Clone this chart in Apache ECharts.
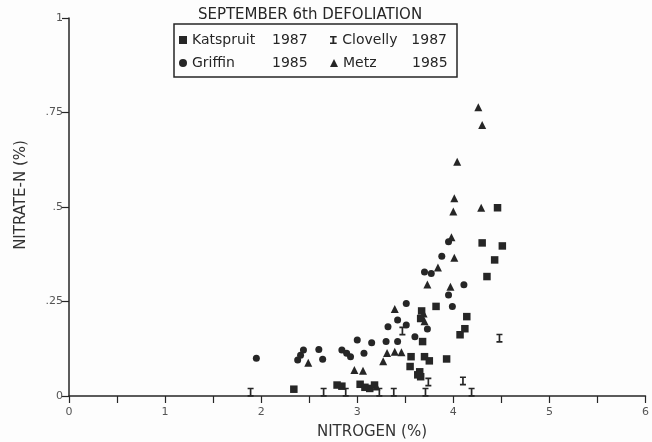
<!DOCTYPE html>
<html>
<head>
<meta charset="utf-8">
<script src="https://cdn.jsdelivr.net/npm/echarts@6/dist/echarts.min.js"></script>
<style>
  html, body { margin: 0; padding: 0; background: #fdfdfd; }
  #chart { width: 652px; height: 442px; }
</style>
</head>
<body>
<div id="chart"></div>
<script>
// Total nitrogen (%) vs nitrate-N (%) in leaves, September 6th defoliation
const seriesNames = ['Katspruit 1987', 'Clovelly 1987', 'Griffin 1985', 'Metz 1985'];

const katspruit = [
  [2.34, 0.018], [2.79, 0.029], [2.84, 0.026], [3.03, 0.031], [3.08, 0.023],
  [3.13, 0.020], [3.18, 0.029], [3.55, 0.078], [3.56, 0.104], [3.63, 0.056],
  [3.65, 0.064], [3.66, 0.051], [3.70, 0.104], [3.75, 0.093], [3.93, 0.098],
  [3.68, 0.144], [3.66, 0.205], [3.67, 0.225], [3.82, 0.237], [4.07, 0.162],
  [4.12, 0.178], [4.14, 0.210], [4.30, 0.405], [4.35, 0.316], [4.43, 0.360],
  [4.46, 0.498], [4.51, 0.397]
];
const clovelly = [
  [1.89, 0.010], [2.65, 0.010], [2.88, 0.010], [3.23, 0.010], [3.38, 0.010],
  [3.71, 0.010], [4.19, 0.010], [3.74, 0.037], [4.10, 0.040], [3.47, 0.172],
  [4.48, 0.153]
];
const griffin = [
  [1.95, 0.100], [2.38, 0.095], [2.41, 0.108], [2.44, 0.122], [2.60, 0.123],
  [2.64, 0.097], [2.84, 0.122], [2.89, 0.113], [2.93, 0.104], [3.00, 0.148],
  [3.07, 0.113], [3.15, 0.141], [3.30, 0.144], [3.42, 0.144], [3.32, 0.183],
  [3.42, 0.201], [3.51, 0.188], [3.51, 0.245], [3.60, 0.157], [3.73, 0.177],
  [3.99, 0.237], [3.95, 0.267], [4.11, 0.294], [3.70, 0.328], [3.77, 0.324],
  [3.88, 0.370], [3.95, 0.408]
];
const metz = [
  [2.49, 0.088], [2.97, 0.069], [3.06, 0.067], [3.20, 0.025], [3.27, 0.092],
  [3.31, 0.114], [3.39, 0.117], [3.46, 0.116], [3.39, 0.230], [3.69, 0.218],
  [3.70, 0.198], [3.73, 0.295], [3.84, 0.340], [3.97, 0.289], [4.01, 0.366],
  [3.98, 0.420], [4.00, 0.488], [4.01, 0.523], [4.04, 0.620], [4.29, 0.498],
  [4.26, 0.764], [4.30, 0.717]
];

const yTickLabels = { 0: '0', 0.25: '.25', 0.5: '.5', 0.75: '.75', 1: '1' };
const xTickLabels = { 0: '0', 1: '1', 2: '2', 3: '3', 4: '4', 5: '5', 6: '6' };

const INK = '#262626';
const FONT = '"DejaVu Sans", sans-serif';
// I-beam marker used for the Clovelly soil
const ibeam = 'path://M0,0H10V2.2H6.4V9.8H10V12H0V9.8H3.6V2.2H0Z';

const nameWidth = {
  'Katspruit 1987': 80, 'Griffin 1985': 80,
  'Clovelly 1987': 69, 'Metz 1985': 69
};
function legendLabel(name) {
  const parts = name.split(' ');
  const key = nameWidth[name] === 80 ? 'a' : 'b';
  return '{' + key + '|' + parts[0] + '}{y|' + parts[1] + '}';
}
const legendRich = {
  a: { width: 80, fontSize: 14, fontFamily: FONT, color: INK },
  b: { width: 69, fontSize: 14, fontFamily: FONT, color: INK },
  y: { width: 36, fontSize: 14, fontFamily: FONT, color: INK }
};
function legendRow(names, top) {
  return {
    data: names,
    left: 179,
    top: top,
    padding: 0,
    itemGap: 22,
    itemWidth: 8,
    itemHeight: 8,
    selectedMode: false,
    formatter: legendLabel,
    textStyle: { rich: legendRich, lineHeight: 16 }
  };
}

const chart = echarts.init(document.getElementById('chart'), null, { renderer: 'canvas' });

function scatter(name, data, symbol, size) {
  return {
    name: name,
    type: 'scatter',
    data: data,
    symbol: symbol,
    symbolSize: size,
    itemStyle: { color: INK, opacity: 1 },
    emphasis: { disabled: true },
    silent: true
  };
}

chart.setOption({
  backgroundColor: '#fdfdfd',
  animation: false,
  grid: { left: 69, right: 5, top: 18, bottom: 46, containLabel: false },
  legend: [
    legendRow(['Katspruit 1987', 'Clovelly 1987'], 32),
    legendRow(['Griffin 1985', 'Metz 1985'], 55)
  ],
  xAxis: {
    type: 'value',
    min: 0, max: 6, interval: 0.5,
    axisLine: { show: true, onZero: false, lineStyle: { color: INK, width: 1.5 } },
    axisTick: { show: true, length: 7, lineStyle: { color: INK, width: 1.2 } },
    axisLabel: {
      color: '#555', fontSize: 11, fontFamily: FONT, margin: 11,
      formatter: v => (xTickLabels[v] !== undefined ? xTickLabels[v] : '')
    },
    splitLine: { show: false }
  },
  yAxis: {
    type: 'value',
    min: 0, max: 1, interval: 0.25,
    axisLine: { show: true, onZero: false, lineStyle: { color: INK, width: 1.5 } },
    axisTick: { show: true, length: 7, lineStyle: { color: INK, width: 1.2 } },
    axisLabel: {
      color: '#555', fontSize: 11, fontFamily: FONT, margin: 6,
      formatter: v => (yTickLabels[v] !== undefined ? yTickLabels[v] : '')
    },
    splitLine: { show: false }
  },
  graphic: [
    {
      type: 'text', x: 310, y: 15,
      style: {
        text: 'SEPTEMBER 6th DEFOLIATION', fill: INK,
        font: '15px "DejaVu Sans", sans-serif',
        textAlign: 'center', textVerticalAlign: 'middle'
      }
    },
    {
      type: 'rect', shape: { x: 174, y: 24, width: 283, height: 53 },
      style: { fill: 'none', stroke: INK, lineWidth: 1.5 }
    },
    {
      type: 'text', x: 372, y: 432,
      style: {
        text: 'NITROGEN (%)', fill: '#333',
        font: '15px "DejaVu Sans", sans-serif',
        textAlign: 'center', textVerticalAlign: 'middle'
      }
    },
    {
      type: 'text', x: 21, y: 195, rotation: Math.PI / 2,
      style: {
        text: 'NITRATE-N (%)', fill: '#333',
        font: '15px "DejaVu Sans", sans-serif',
        textAlign: 'center', textVerticalAlign: 'middle'
      }
    }
  ],
  series: [
    scatter('Katspruit 1987', katspruit, 'rect', 7.5),
    scatter('Clovelly 1987', clovelly, ibeam, [6, 9]),
    scatter('Griffin 1985', griffin, 'circle', 7),
    scatter('Metz 1985', metz, 'triangle', 8)
  ]
});
</script>
</body>
</html>
